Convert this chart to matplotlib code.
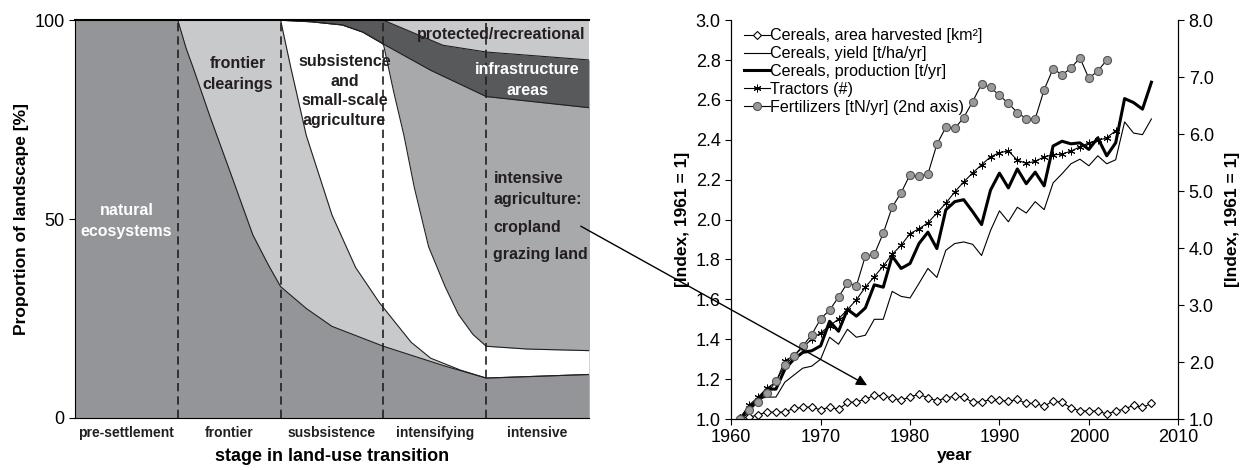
# Land-use transition + cereal indices (two panels)

import numpy as np
import matplotlib
matplotlib.use("Agg")
import matplotlib.pyplot as plt
from matplotlib.patches import ConnectionPatch

plt.rcParams["font.family"] = ["Liberation Sans", "DejaVu Sans"]

# ---------------- left panel data (stage position 0..5, %) ----------------
stages = ["pre-settlement", "frontier", "susbsistence", "intensifying", "intensive"]

nat_x = [0, 1, 1.08, 1.15, 1.31, 1.5, 1.73, 1.88, 2, 2.25, 2.5, 2.75, 3, 3.3, 3.6, 4, 5]
nat_y = [100, 100, 93, 88, 76, 62.5, 46, 38.5, 33, 27.5, 23, 20.5, 18, 15.5, 13, 10, 10.9]

front_x = [2, 2.1, 2.25, 2.5, 2.73, 2.96, 3.27, 3.46, 3.75, 4, 5]
front_y = [100, 88, 71, 51, 37.8, 29, 19, 15, 12, 10, 10.9]

subs_x = [2, 2.3, 2.6, 2.8, 3, 3.1, 3.2, 3.3, 3.44, 3.6, 3.73, 3.87, 4, 4.4, 5]
subs_y = [100, 99.6, 98.8, 97, 94, 82, 71, 58, 43, 33, 26, 21, 18, 17.3, 16.9]

infra_lo_x = [2, 2.3, 2.6, 2.8, 3, 3.46, 4, 5]
infra_lo_y = [100, 99.6, 98.8, 97, 94, 87.4, 80.8, 78]

infra_hi_x = [2, 3, 3.58, 4, 5]
infra_hi_y = [100, 100, 93.7, 92, 90]

# ---------------- right panel data ----------------
years = list(range(1961, 2008))

area = [1.003, 1.01, 1.02, 1.036, 1.033, 1.036, 1.053, 1.058, 1.061, 1.045,
        1.061, 1.048, 1.083, 1.086, 1.099, 1.119, 1.116, 1.106, 1.094, 1.111,
        1.124, 1.106, 1.091, 1.106, 1.114, 1.111, 1.083, 1.086, 1.098, 1.094,
        1.089, 1.098, 1.078, 1.078, 1.064, 1.091, 1.083, 1.056, 1.041, 1.040,
        1.040, 1.025, 1.040, 1.050, 1.069, 1.058, 1.078]

yield_ = [1.0, 1.03, 1.1, 1.11, 1.11, 1.185, 1.22, 1.255, 1.265, 1.30,
          1.41, 1.375, 1.45, 1.41, 1.42, 1.50, 1.50, 1.64, 1.615, 1.607,
          1.68, 1.755, 1.71, 1.846, 1.88, 1.888, 1.876, 1.82, 1.945, 2.044,
          1.989, 2.062, 2.033, 2.09, 2.05, 2.184, 2.23, 2.28, 2.303, 2.27,
          2.32, 2.28, 2.30, 2.49, 2.434, 2.426, 2.505]

production = [1.0, 1.06, 1.094, 1.15, 1.15, 1.25, 1.30, 1.334, 1.342, 1.367,
              1.49, 1.44, 1.55, 1.516, 1.557, 1.673, 1.661, 1.817, 1.755, 1.78,
              1.88, 1.937, 1.855, 2.049, 2.09, 2.10, 2.04, 1.975, 2.148, 2.233,
              2.159, 2.254, 2.18, 2.238, 2.169, 2.369, 2.393, 2.38, 2.385, 2.352,
              2.41, 2.32, 2.385, 2.607, 2.587, 2.554, 2.689]

tractor_years = list(range(1961, 2004))
tractors = [1.0, 1.07, 1.11, 1.155, 1.185, 1.293, 1.317, 1.359, 1.40, 1.433,
            1.466, 1.502, 1.549, 1.598, 1.661, 1.714, 1.767, 1.826, 1.871, 1.93,
            1.954, 1.984, 2.033, 2.082, 2.139, 2.189, 2.234, 2.275, 2.315, 2.336,
            2.344, 2.298, 2.282, 2.292, 2.315, 2.325, 2.328, 2.344, 2.364, 2.385,
            2.397, 2.41, 2.446]

fert_years = list(range(1961, 2003))
fertilizers = [1.0, 1.16, 1.29, 1.45, 1.66, 1.94, 2.11, 2.28, 2.48, 2.76,
               2.91, 3.14, 3.39, 3.34, 3.86, 3.89, 4.26, 4.72, 4.97, 5.29,
               5.26, 5.30, 5.82, 6.12, 6.10, 6.29, 6.57, 6.88, 6.82, 6.68,
               6.54, 6.38, 6.27, 6.27, 6.78, 7.15, 7.04, 7.16, 7.34, 6.98,
               7.11, 7.30]

# ---------------- colours ----------------
C_NAT = "#939598"
C_LIGHT = "#c8c9cb"
C_CROP = "#a7a9ab"
C_INFRA = "#58595b"
C_TXT = "#231f20"

fig = plt.figure(figsize=(12.5, 4.7), dpi=100)

# =====================================================
# Left panel
# =====================================================
ax1 = fig.add_axes([0.06, 0.111, 0.4112, 0.846])

ax1.fill_between([0, 5], 0, 100, color=C_LIGHT, lw=0)
ax1.fill_between(infra_hi_x, 0, infra_hi_y, color=C_INFRA, lw=0)
ax1.fill_between(infra_lo_x, 0, infra_lo_y, color=C_CROP, lw=0)
ax1.fill_between(subs_x, 0, subs_y, color="white", lw=0)
ax1.fill_between(front_x, 0, front_y, color=C_LIGHT, lw=0)
ax1.fill_between(nat_x, 0, nat_y, color=C_NAT, lw=0)

for xs, ys in [(nat_x, nat_y), (front_x, front_y), (subs_x, subs_y),
               (infra_lo_x, infra_lo_y), (infra_hi_x, infra_hi_y)]:
    ax1.plot(xs, ys, color=C_TXT, lw=0.8)

for xv in [1, 2, 3, 4]:
    ax1.axvline(xv, color=C_TXT, lw=1.2, ls=(0, (5, 3)))

ax1.set_xlim(0, 5)
ax1.set_ylim(0, 100)
ax1.set_yticks([0, 50, 100])
ax1.tick_params(axis="y", labelsize=13, length=4, direction="out")
ax1.set_xticks([0.5, 1.5, 2.5, 3.5, 4.5])
ax1.set_xticklabels(stages, fontsize=10, fontweight="bold", color=C_TXT)
ax1.tick_params(axis="x", length=0, pad=6)
ax1.spines["right"].set_visible(False)
ax1.spines["top"].set_linewidth(1.5)
ax1.set_ylabel("Proportion of landscape [%]", fontsize=12.5, fontweight="bold")
ax1.set_xlabel("stage in land-use transition", fontsize=13, fontweight="bold", labelpad=6)

bold = dict(fontweight="bold", fontsize=11.5)
ax1.text(0.5, 49.5, "natural\necosystems", color="white", ha="center", va="center",
         linespacing=1.45, **bold)
ax1.text(1.58, 86.5, "frontier\nclearings", color=C_TXT, ha="center", va="center",
         linespacing=1.45, **bold)
ax1.text(2.62, 82.2, "subsistence\nand\nsmall-scale\nagriculture", color=C_TXT,
         ha="center", va="center", linespacing=1.4, **bold)
ax1.text(4.15, 96.3, "protected/recreational", color=C_TXT, ha="center", va="center", **bold)
ax1.text(4.4, 85, "infrastructure\nareas", color="white", ha="center", va="center",
         linespacing=1.45, **bold)
ax1.text(4.07, 57.5, "intensive\nagriculture:", color=C_TXT, ha="left", va="center",
         linespacing=1.45, **bold)
ax1.text(4.07, 47.9, "cropland", color=C_TXT, ha="left", va="center", **bold)
ax1.text(4.07, 41.2, "grazing land", color=C_TXT, ha="left", va="center", **bold)

# =====================================================
# Right panel
# =====================================================
ax2 = fig.add_axes([0.585, 0.1085, 0.3576, 0.8485])
ax3 = ax2.twinx()

asterisk = (6, 2, 0)

ax2.plot(years, area, color="black", lw=0.8, marker="D", ms=3.8,
         mfc="white", mec="black", mew=0.8, label="Cereals, area harvested [km²]")
ax2.plot(years, yield_, color="black", lw=0.8, label="Cereals, yield [t/ha/yr]")
ax2.plot(years, production, color="black", lw=2.2, label="Cereals, production [t/yr]")
ax2.plot(tractor_years, tractors, color="black", lw=0.8, marker=asterisk, ms=5.5,
         mec="black", mew=0.7, label="Tractors (#)")
ax3.plot(fert_years, fertilizers, color="black", lw=0.8, marker="o", ms=5.8,
         mfc="#9a9a9a", mec="#555555", mew=0.8)
# legend proxy for the 2nd-axis series
ax2.plot([], [], color="black", lw=0.8, marker="o", ms=5.8, mfc="#9a9a9a",
         mec="#555555", mew=0.8, label="Fertilizers [tN/yr] (2nd axis)")

ax2.set_xlim(1960, 2010)
ax2.set_ylim(1.0, 3.0)
ax3.set_ylim(1.0, 8.0)
ax2.set_xticks(range(1960, 2011, 10))
ax2.set_yticks(np.arange(1.0, 3.01, 0.2))
ax3.set_yticks(np.arange(1.0, 8.01, 1.0))
ax2.yaxis.set_major_formatter(matplotlib.ticker.FormatStrFormatter("%.1f"))
ax3.yaxis.set_major_formatter(matplotlib.ticker.FormatStrFormatter("%.1f"))
for a in (ax2, ax3):
    a.tick_params(labelsize=13, length=4, direction="out")
    a.spines["top"].set_visible(False)

ax2.set_xlabel("year", fontsize=12.5, fontweight="bold", labelpad=1)
ax2.set_ylabel("[Index, 1961 = 1]", fontsize=12.5, fontweight="bold")
ax3.set_ylabel("[Index, 1961 = 1]", fontsize=12.5, fontweight="bold", labelpad=8)

ax2.legend(loc="upper left", frameon=False, fontsize=11.6, handlelength=1.6,
           handletextpad=0.05, labelspacing=0.18, borderaxespad=0.1,
           bbox_to_anchor=(0.01, 1.0))

# arrow from the intensive-agriculture label to the area curve
arrow = ConnectionPatch(xyA=(4.92, 48.2), coordsA=ax1.transData,
                        xyB=(1975.2, 1.169), coordsB=ax2.transData,
                        arrowstyle="-|>", mutation_scale=16, lw=1.0, color="black")
fig.add_artist(arrow)

fig.savefig("out.png", dpi=100)
